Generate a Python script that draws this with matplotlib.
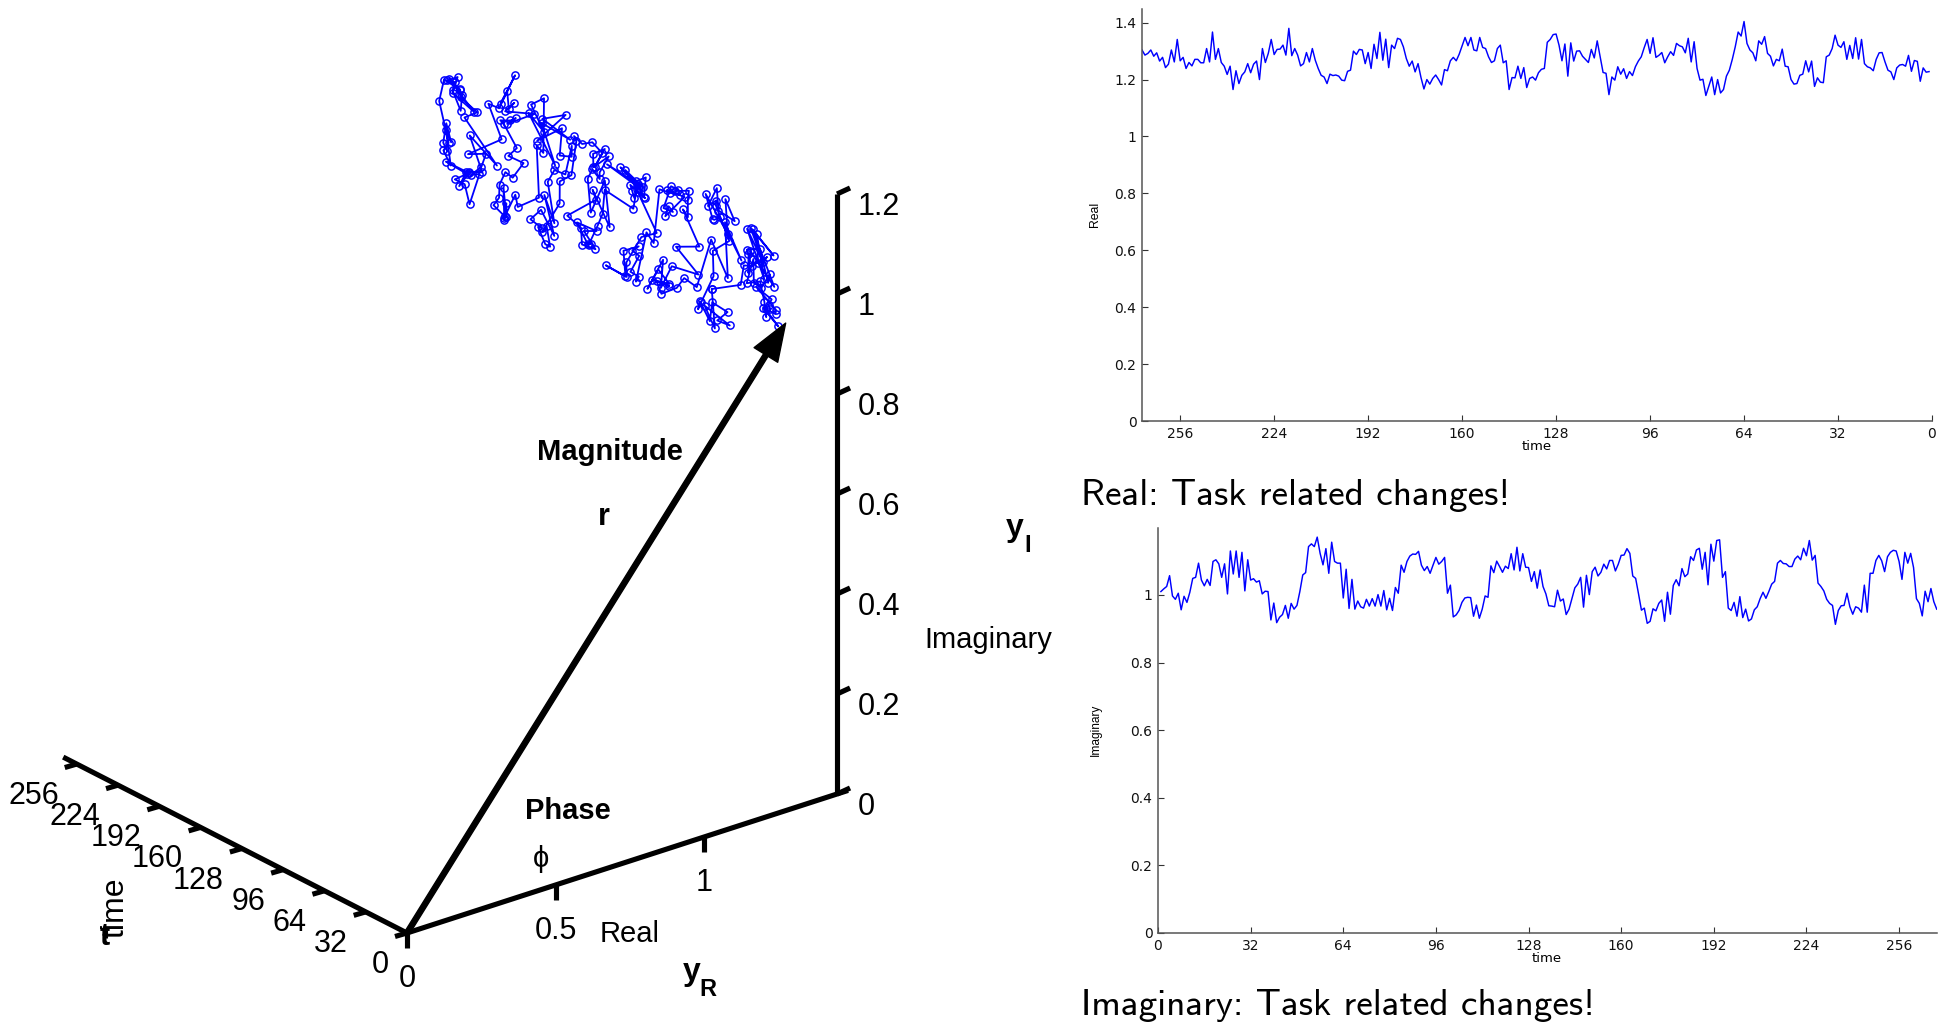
import numpy as np
import matplotlib
matplotlib.use('Agg')
import matplotlib.pyplot as plt

W, H = 1948, 1023

# Real part, listed from the latest sample (left of the plot) to the first
real_vals = [
    1.304, 1.286, 1.292, 1.304, 1.282, 1.294, 1.265, 1.278, 1.242, 1.254, 1.304, 1.262, 1.341, 1.266, 1.278,
    1.239, 1.260, 1.248, 1.271, 1.271, 1.259, 1.259, 1.309, 1.262, 1.367, 1.271, 1.309, 1.260, 1.247, 1.218,
    1.247, 1.165, 1.231, 1.186, 1.215, 1.227, 1.256, 1.224, 1.254, 1.265, 1.200, 1.309, 1.260, 1.292, 1.341,
    1.288, 1.306, 1.307, 1.321, 1.286, 1.380, 1.284, 1.309, 1.286, 1.248, 1.256, 1.295, 1.262, 1.309, 1.268,
    1.239, 1.215, 1.209, 1.186, 1.219, 1.214, 1.216, 1.212, 1.198, 1.196, 1.229, 1.233, 1.300, 1.288, 1.306,
    1.304, 1.256, 1.295, 1.239, 1.324, 1.274, 1.366, 1.268, 1.342, 1.242, 1.321, 1.309, 1.345, 1.341, 1.315,
    1.274, 1.247, 1.265, 1.227, 1.256, 1.207, 1.167, 1.200, 1.184, 1.204, 1.216, 1.200, 1.181, 1.235, 1.231,
    1.266, 1.278, 1.266, 1.289, 1.319, 1.348, 1.319, 1.348, 1.304, 1.301, 1.348, 1.313, 1.309, 1.280, 1.260,
    1.266, 1.309, 1.321, 1.259, 1.266, 1.165, 1.207, 1.206, 1.247, 1.204, 1.242, 1.172, 1.204, 1.209, 1.198,
    1.224, 1.236, 1.239, 1.331, 1.341, 1.358, 1.360, 1.321, 1.266, 1.325, 1.212, 1.329, 1.265, 1.300, 1.301,
    1.282, 1.271, 1.260, 1.306, 1.276, 1.336, 1.280, 1.225, 1.222, 1.147, 1.209, 1.198, 1.245, 1.219, 1.238,
    1.204, 1.228, 1.214, 1.245, 1.265, 1.280, 1.312, 1.341, 1.292, 1.347, 1.278, 1.285, 1.295, 1.259, 1.280,
    1.298, 1.285, 1.327, 1.319, 1.315, 1.294, 1.345, 1.262, 1.333, 1.239, 1.198, 1.201, 1.144, 1.176, 1.209,
    1.147, 1.200, 1.153, 1.165, 1.212, 1.233, 1.271, 1.315, 1.367, 1.353, 1.404, 1.327, 1.304, 1.294, 1.266,
    1.336, 1.324, 1.351, 1.292, 1.282, 1.248, 1.271, 1.266, 1.307, 1.247, 1.245, 1.200, 1.184, 1.186, 1.215,
    1.219, 1.266, 1.227, 1.265, 1.176, 1.206, 1.191, 1.189, 1.280, 1.286, 1.309, 1.356, 1.321, 1.313, 1.333,
    1.271, 1.320, 1.274, 1.347, 1.272, 1.341, 1.256, 1.245, 1.241, 1.231, 1.271, 1.294, 1.295, 1.262, 1.233,
    1.227, 1.200, 1.241, 1.251, 1.253, 1.247, 1.285, 1.229, 1.267, 1.264, 1.194, 1.241, 1.226, 1.228,
]

# Imaginary part, listed from the first sample onward
imag_vals = [
    1.010, 1.018, 1.025, 1.057, 0.997, 0.987, 1.005, 0.956, 0.996, 0.978, 1.008, 1.049, 1.052, 1.094, 1.044,
    1.027, 1.046, 1.028, 1.099, 1.104, 1.092, 1.052, 1.092, 1.003, 1.130, 1.062, 1.130, 1.052, 1.126, 1.012,
    1.104, 1.044, 1.048, 1.038, 1.042, 1.003, 1.011, 1.010, 0.926, 0.976, 0.918, 0.934, 0.942, 0.969, 0.931,
    0.975, 0.958, 0.969, 1.010, 1.059, 1.066, 1.143, 1.151, 1.143, 1.171, 1.123, 1.089, 1.137, 1.064, 1.156,
    1.099, 1.094, 1.094, 0.991, 1.076, 0.960, 1.046, 0.958, 0.982, 0.965, 0.961, 0.987, 0.967, 0.989, 0.967,
    1.001, 0.967, 1.013, 0.956, 0.990, 0.954, 1.022, 1.005, 1.088, 1.067, 1.099, 1.115, 1.121, 1.120, 1.129,
    1.088, 1.072, 1.084, 1.064, 1.088, 1.111, 1.091, 1.099, 1.111, 1.005, 1.029, 0.935, 0.941, 0.954, 0.978,
    0.991, 0.993, 0.992, 0.937, 0.970, 0.931, 0.958, 0.997, 0.993, 1.086, 1.066, 1.100, 1.084, 1.067, 1.085,
    1.078, 1.122, 1.074, 1.141, 1.071, 1.122, 1.082, 1.081, 1.040, 1.069, 1.020, 1.074, 1.025, 1.003, 0.968,
    0.967, 0.965, 1.014, 0.982, 0.988, 0.942, 0.958, 0.990, 1.021, 1.032, 1.052, 0.964, 1.058, 1.001, 1.069,
    1.082, 1.056, 1.067, 1.091, 1.077, 1.102, 1.102, 1.071, 1.091, 1.117, 1.118, 1.137, 1.123, 1.056, 1.049,
    1.003, 0.955, 0.961, 0.916, 0.922, 0.959, 0.953, 0.975, 0.985, 0.922, 1.008, 0.943, 1.028, 1.045, 1.027,
    1.078, 1.054, 1.062, 1.113, 1.102, 1.133, 1.138, 1.076, 1.126, 1.030, 1.150, 1.100, 1.161, 1.163, 1.052,
    1.069, 0.961, 0.954, 0.978, 0.937, 0.995, 0.933, 0.958, 0.923, 0.929, 0.956, 0.965, 0.989, 1.008, 0.990,
    1.010, 1.032, 1.040, 1.094, 1.102, 1.093, 1.092, 1.084, 1.084, 1.106, 1.115, 1.104, 1.138, 1.116, 1.161,
    1.103, 1.117, 1.035, 1.025, 1.012, 0.987, 0.975, 0.969, 0.913, 0.954, 0.968, 0.969, 1.005, 0.965, 0.943,
    0.965, 0.961, 0.949, 1.029, 0.949, 1.064, 1.064, 1.102, 1.117, 1.101, 1.069, 1.113, 1.126, 1.132, 1.130,
    1.099, 1.046, 1.126, 1.094, 1.123, 1.081, 0.989, 0.975, 0.938, 1.011, 0.980, 1.019, 0.980, 0.958,
]

time_ticks = [0, 32, 64, 96, 128, 160, 192, 224, 256]
real_3d_ticks = [0, 0.5, 1]
real_3d_labels = ['0', '0.5', '1']
imag_3d_ticks = [0, 0.2, 0.4, 0.6, 0.8, 1, 1.2]
imag_3d_labels = ['0', '0.2', '0.4', '0.6', '0.8', '1', '1.2']
mag_ticks = [0, 0.2, 0.4, 0.6, 0.8, 1, 1.2, 1.4]
mag_labels = ['0', '0.2', '0.4', '0.6', '0.8', '1', '1.2', '1.4']
imag_ticks = [0, 0.2, 0.4, 0.6, 0.8, 1]
imag_labels = ['0', '0.2', '0.4', '0.6', '0.8', '1']
arrow_real, arrow_imag = 1.275, 0.975
real_end, imag_end, time_end = 1.485, 1.2, 266.5
imag_axis_real = 1.448

real_arr = np.array(real_vals)
imag_arr = np.array(imag_vals)
n = min(len(real_arr), len(imag_arr))
t_real = np.arange(len(real_arr), 0, -1)
t_imag = np.arange(1, len(imag_arr) + 1)


def project(re, im, t):
    # oblique view of the (real, imaginary, time) box onto the page
    re, im, t = np.asarray(re, float), np.asarray(im, float), np.asarray(t, float)
    x = 407 + 297 * re - 1.29 * t
    y = 933 - 96 * re - 500 * im - 0.66 * t
    return x, y


def axes_px(x0, y0, x1, y1):
    return fig.add_axes([x0 / W, 1 - y1 / H, (x1 - x0) / W, (y1 - y0) / H])


fig = plt.figure(figsize=(W / 100, H / 100), dpi=100)

# page-sized layer for the oblique drawing
pg = axes_px(0, 0, W, H)
pg.set_xlim(0, W)
pg.set_ylim(H, 0)
pg.axis('off')

ax_kw = dict(color='k', lw=3.7, solid_capstyle='butt')
sans = 'Liberation Sans'

# time axis
x, y = project([0, 0], [0, 0], [0, time_end])
pg.plot(x, y, **ax_kw)
for tk in time_ticks:
    x, y = project(0, 0, tk)
    pg.plot([x, x - 12], [y, y + 3.5], **ax_kw)
    pg.text(x - 18, y + 32, str(tk), ha='right', va='center', fontsize=22, family=sans)

# real axis
x, y = project([0, real_end], [0, 0], [0, 0])
pg.plot(x, y, **ax_kw)
for tk, lab in zip(real_3d_ticks, real_3d_labels):
    x, y = project(tk, 0, 0)
    pg.plot([x, x], [y, y + 15], **ax_kw)
    pg.text(x, y + 46, lab, ha='center', va='center', fontsize=22, family=sans)

# imaginary axis
x, y = project([imag_axis_real] * 2, [0, imag_end], [0, 0])
pg.plot(x, y, **ax_kw)
for tk, lab in zip(imag_3d_ticks, imag_3d_labels):
    x, y = project(imag_axis_real, tk, 0)
    pg.plot([x, x + 13], [y, y - 6], **ax_kw)
    pg.text(x + 21, y + 13, lab, ha='left', va='center', fontsize=22, family=sans)

# trajectory
x, y = project(real_arr[::-1][:n], imag_arr[:n], np.arange(1, n + 1))
pg.plot(x, y, '-o', color='#0000ff', lw=1.3, ms=5.2, mfc='none', mew=1.05)

# magnitude arrow
x0, y0 = project(0, 0, 0)
x1, y1 = project(arrow_real, arrow_imag, 0)
pg.annotate('', xy=(float(x1), float(y1)), xytext=(float(x0), float(y0)),
            arrowprops=dict(color='k', width=3.7, headwidth=20, headlength=27, shrink=0))

# labels of the drawing
pg.text(610, 452, 'Magnitude', ha='center', va='center', fontsize=21, fontweight='bold', family=sans)
pg.text(604, 517, 'r', ha='center', va='center', fontsize=22, fontweight='bold', family=sans)
pg.text(568, 811, 'Phase', ha='center', va='center', fontsize=21, fontweight='bold', family=sans)
pg.text(541, 859, 'ϕ', ha='center', va='center', fontsize=21, family=[sans, 'DejaVu Sans'])
pg.text(630, 934, 'Real', ha='center', va='center', fontsize=21, family=sans)
pg.text(692, 972, 'y', ha='center', va='center', fontsize=23, fontweight='bold', family=sans)
pg.text(708, 990, 'R', ha='center', va='center', fontsize=17, fontweight='bold', family=sans)
pg.text(1015, 528, 'y', ha='center', va='center', fontsize=23, fontweight='bold', family=sans)
pg.text(1028, 545, 'I', ha='center', va='center', fontsize=17, fontweight='bold', family=sans)
pg.text(988, 640, 'Imaginary', ha='center', va='center', fontsize=21, family=sans)
pg.text(116, 908, 'time', ha='center', va='center', rotation=90, fontsize=23, family=sans)
pg.text(105, 937, 't', ha='center', va='center', fontsize=22, fontweight='bold', family=sans)

# captions and small axis titles
pg.text(1081, 495, 'Real: Task related changes!', ha='left', va='center', fontsize=26.75, family='cmss10')
pg.text(1081, 1006, 'Imaginary: Task related changes!', ha='left', va='center', fontsize=26.75, family='cmss10')
pg.text(1537, 446, 'time', ha='center', va='center', fontsize=9.5)
pg.text(1547, 958, 'time', ha='center', va='center', fontsize=9.5)
pg.text(1095, 214, 'Real', ha='center', va='center', rotation=90, fontsize=8.8, family=sans)
pg.text(1096, 730, 'Imaginary', ha='center', va='center', rotation=90, fontsize=8.6, family=sans)


def style(ax):
    ax.patch.set_alpha(0)
    for side in ('top', 'right'):
        ax.spines[side].set_visible(False)
    for side in ('left', 'bottom'):
        ax.spines[side].set_color('#555555')
        ax.spines[side].set_linewidth(1.1)
    ax.tick_params(direction='in', length=4, width=0.8, color='#333333', labelsize=10, pad=4, labelcolor='#111111')
    ax.set_xticks(time_ticks)


# top: real part, time runs right to left
ax1 = axes_px(1142, 9, 1932, 421)
ax1.plot(t_real, real_arr, color='#0000ff', lw=1.05)
ax1.set_xlim(269, 0)
ax1.set_ylim(0, 1.448)
style(ax1)
ax1.set_yticks(mag_ticks, mag_labels)

# bottom: imaginary part
ax2 = axes_px(1158, 528, 1937, 933)
ax2.plot(t_imag, imag_arr, color='#0000ff', lw=1.05)
ax2.set_xlim(0, 269.1)
ax2.set_ylim(0, 1.198)
style(ax2)
ax2.set_yticks(imag_ticks, imag_labels)

fig.savefig('out.png', dpi=100)
